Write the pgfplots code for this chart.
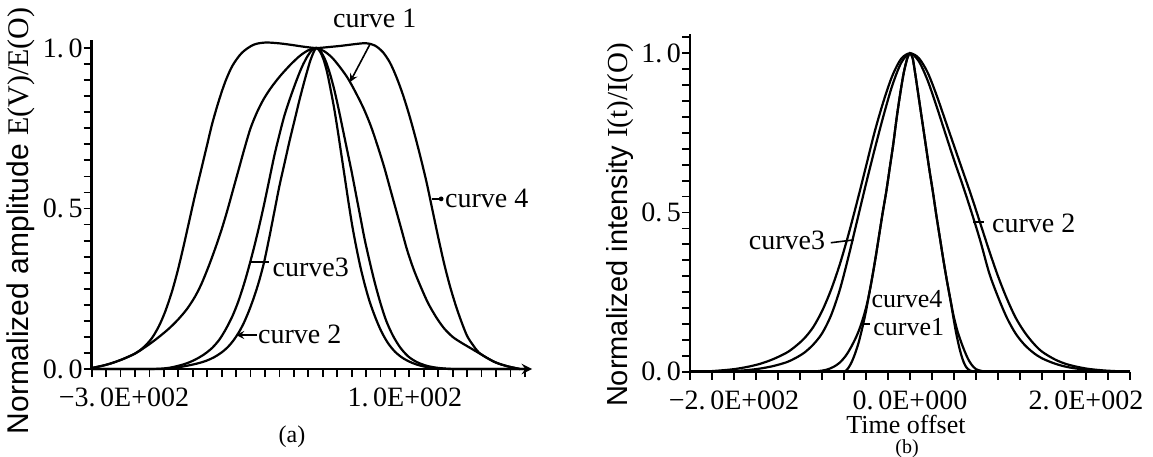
\documentclass[border=0pt]{standalone}
\usepackage{pgfplots}
\pgfplotsset{compat=1.18}
\usepackage{fontspec}
\setmainfont{Liberation Serif}
\setsansfont{Liberation Sans}

\pgfplotsset{
  oldfig/.style={
    scale only axis,
    clip=false,
    axis x line*=bottom,
    axis y line*=left,
    axis line style={line width=1.3pt},
    tick align=outside,
    major tick length=4pt,
    minor tick length=4pt,
    tick style={line width=0.9pt, black},
    ticklabel style={font=\fontsize{14}{16}\selectfont},
    xticklabel style={yshift=-2pt},
    yticklabel style={xshift=3pt},
  },
}
\tikzset{
  curve/.style={black, line width=1.1pt, smooth, tension=0.5, mark=none},
  lbl/.style={font=\fontsize{14}{16}\selectfont, inner sep=0pt},
}

\begin{document}
\begin{tikzpicture}
\path[use as bounding box] (0,0) rectangle (576.5pt,228pt);

% ---------- (a) spectrum ----------
\begin{axis}[oldfig,
  at={(45.85pt,43.5pt)}, anchor=south west,
  width=220.2pt, height=164.5pt,
  xmin=-300, xmax=310, ymin=0, ymax=1.025,
  x axis line style={-stealth},
  xtick={-300,100},
  xticklabels={−3.\,0E+002, 1.\,0E+002},
  xticklabel style={anchor=north west, xshift=-20pt},
  minor xtick={-280,-260,...,300},
  ytick={0,0.5,1},
  yticklabels={0.\,0, 0.\,5, 1.\,0},
  minor ytick={0.05,0.1,...,0.96},
  ylabel={\sffamily Normalized amplitude \rmfamily E(V)/E(O)},
  ylabel style={font=\fontsize{15}{17}\selectfont,
    at={(axis description cs:-0.16,0.45)}, anchor=center},
]
% curve 4 (widest, flat top)
\addplot[curve] coordinates {
(-300,0.003) (-280,0.013) (-260,0.028) (-240,0.048) (-228,0.068) (-217,0.095)
(-207,0.133) (-198,0.180) (-189,0.240) (-181,0.305) (-173,0.380) (-165,0.460)
(-157,0.540) (-149,0.615) (-141,0.690) (-133,0.765) (-124,0.835) (-115,0.895)
(-105,0.945) (-92,0.985) (-76,1.010) (-60,1.017) (-42,1.015) (-24,1.010)
(-6,1.004) (11,1.0) (28,1.003) (46,1.007) (64,1.012) (80,1.015) (92,1.008)
(103,0.988) (113,0.955) (122,0.910) (131,0.855) (140,0.790) (148,0.725)
(156,0.655) (164,0.580) (172,0.495) (180,0.410) (188,0.330) (196,0.260)
(204,0.200) (212,0.148) (220,0.103) (228,0.075) (236,0.052) (248,0.034)
(260,0.020) (275,0.009) (293,0.0)
};
% curve 1 (medium)
\addplot[curve] coordinates {
(-300,0.003) (-280,0.013) (-260,0.028) (-240,0.048) (-228,0.065) (-216,0.084)
(-204,0.105) (-192,0.128) (-180,0.155) (-168,0.187) (-157,0.225) (-148,0.265)
(-138,0.320) (-129,0.375) (-120,0.435) (-112,0.495) (-104,0.560) (-96,0.625)
(-88,0.690) (-80,0.750) (-71,0.800) (-62,0.840) (-52,0.875) (-40,0.910)
(-26,0.945) (-12,0.975) (0,0.993) (11,1.0) (22,0.990) (33,0.970) (44,0.940)
(55,0.905) (66,0.860) (77,0.810) (87,0.755) (96,0.695) (105,0.630) (113,0.565)
(121,0.500) (129,0.435) (137,0.370) (146,0.310) (156,0.255) (166,0.205)
(177,0.162) (188,0.127) (200,0.100) (212,0.082) (224,0.066) (236,0.050)
(248,0.034) (260,0.020) (275,0.009) (293,0.0)
};
% curve 3 (narrow, outer)
\addplot[curve] coordinates {
(-300,0) (-280,0) (-260,0) (-240,0) (-220,0) (-205,0.001) (-192,0.004)
(-180,0.010) (-168,0.018) (-156,0.030) (-144,0.046) (-133,0.066) (-123,0.092)
(-114,0.125) (-105,0.165) (-97,0.210) (-89,0.265) (-82,0.320) (-75,0.380)
(-68,0.445) (-61,0.515) (-54,0.590) (-47,0.665) (-40,0.730) (-33,0.790)
(-25,0.845) (-17,0.895) (-9,0.940) (-1,0.975) (5,0.993) (11,1.0) (17,0.990)
(24,0.960) (30,0.920) (36,0.870) (42,0.810) (48,0.745) (54,0.680) (60,0.615)
(66,0.545) (72,0.475) (78,0.405) (85,0.335) (92,0.270) (100,0.205) (108,0.150)
(117,0.105) (127,0.068) (138,0.040) (150,0.022) (164,0.010) (178,0.004)
(192,0.001) (205,0) (220,0) (240,0) (260,0) (280,0) (300,0)
};
% curve 2 (narrow, inner)
\addplot[curve] coordinates {
(-300,0) (-280,0) (-260,0) (-240,0) (-220,0) (-202,0) (-190,0.002)
(-178,0.006) (-166,0.011) (-154,0.017) (-142,0.025) (-131,0.036) (-121,0.050)
(-112,0.067) (-104,0.088) (-96,0.115) (-89,0.145) (-82,0.182) (-75,0.225)
(-68,0.275) (-61,0.335) (-54,0.410) (-47,0.490) (-40,0.570) (-33,0.640)
(-26,0.710) (-19,0.775) (-12,0.840) (-5,0.900) (2,0.955) (7,0.985) (11,1.0)
(16,0.990) (21,0.965) (26,0.925) (31,0.870) (36,0.810) (41,0.740) (46,0.665)
(51,0.590) (56,0.515) (61,0.445) (66,0.385) (72,0.320) (78,0.265) (85,0.210)
(93,0.160) (101,0.118) (110,0.082) (120,0.054) (131,0.034) (143,0.020)
(156,0.010) (170,0.004) (185,0.001) (200,0) (220,0) (240,0) (260,0) (280,0) (300,0)
};
\node[lbl] at (axis cs:92,1.093) {curve 1};
\draw[line width=0.8pt, -stealth] (axis cs:85.5,1.012) -- (axis cs:57.8,0.894);
\node[lbl, anchor=west] at (axis cs:189,0.53) {curve 4};
\draw[line width=0.8pt] (axis cs:171,0.53) -- (axis cs:186,0.53);
\fill (axis cs:184,0.53) circle (1.2pt);
\node[lbl, anchor=west] at (axis cs:-50,0.318) {curve3};
\draw[line width=0.8pt] (axis cs:-80,0.333) -- (axis cs:-55,0.333);
\node[lbl, anchor=west] at (axis cs:-70,0.109) {curve 2};
\draw[line width=0.8pt, -stealth] (axis cs:-71,0.106) -- (axis cs:-100,0.106);
\end{axis}
\node[font=\fontsize{12}{14}\selectfont] at (146pt,9.5pt) {(a)};

% ---------- (b) time domain ----------
\begin{axis}[oldfig,
  at={(345pt,42.15pt)}, anchor=south west,
  width=220pt, height=168.75pt,
  xmin=-250, xmax=250, ymin=0, ymax=1.06,
  xtick={-200,0,200},
  xticklabels={−2.\,0E+002, 0.\,0E+000, 2.\,0E+002},
  minor xtick={-250,-225,...,250},
  ytick={0,0.5,1},
  yticklabels={0.\,0, 0.\,5, 1.\,0},
  minor ytick={0.05,0.1,...,1.06},
  ylabel={\sffamily Normalized intensity \rmfamily I(t)/I(O)},
  ylabel style={font=\fontsize{14.5}{17}\selectfont,
    at={(axis description cs:-0.16,0.435)}, anchor=center},
]
% curve 3 (wide, outer)
\addplot[curve] coordinates {
(-250,0) (-245,0) (-230,0.001) (-215,0.004) (-200,0.008) (-185,0.015)
(-170,0.025) (-155,0.040) (-140,0.060) (-130,0.080) (-120,0.105) (-110,0.140)
(-100,0.190) (-90,0.255) (-80,0.335) (-70,0.430) (-60,0.535) (-50,0.645)
(-40,0.755) (-30,0.850) (-20,0.930) (-10,0.983) (0,1.0) (10,0.985) (20,0.940)
(30,0.870) (40,0.790) (50,0.710) (60,0.630) (70,0.550) (80,0.465) (90,0.380)
(100,0.300) (110,0.230) (120,0.170) (130,0.125) (140,0.090) (150,0.063)
(165,0.038) (180,0.022) (200,0.010) (220,0.004) (240,0.001) (250,0)
};
% curve 2 (wide, inner)
\addplot[curve] coordinates {
(-250,0) (-230,0) (-215,0.001) (-200,0.002) (-185,0.005) (-170,0.010)
(-155,0.018) (-140,0.030) (-130,0.043) (-120,0.060) (-110,0.085) (-100,0.120)
(-90,0.175) (-80,0.255) (-70,0.360) (-60,0.475) (-50,0.590) (-40,0.700)
(-30,0.805) (-20,0.900) (-10,0.970) (0,1.0) (10,0.975) (20,0.915) (30,0.835)
(40,0.750) (50,0.665) (60,0.585) (70,0.500) (80,0.410) (90,0.310) (100,0.235)
(110,0.170) (120,0.120) (130,0.085) (140,0.060) (150,0.042) (165,0.025)
(180,0.014) (200,0.006) (220,0.002) (240,0) (250,0)
};
% curve 1 (narrow, outer)
\addplot[curve] coordinates {
(-250,0) (-230,0) (-210,0) (-190,0) (-170,0) (-150,0) (-130,0) (-115,0)
(-104,0.002) (-95,0.006) (-87,0.015) (-80,0.028) (-73,0.050) (-67,0.077)
(-61,0.110) (-56,0.145) (-51,0.190) (-47,0.236) (-43,0.295) (-39,0.360)
(-35,0.430) (-31,0.500) (-27,0.565) (-23,0.640) (-19,0.715) (-15,0.800)
(-11,0.875) (-7,0.940) (-3,0.985) (0,1.0) (3,0.985) (6,0.935) (10,0.860)
(14,0.785) (18,0.710) (22,0.635) (26,0.565) (30,0.490) (34,0.420) (38,0.350)
(42,0.285) (46,0.225) (50,0.170) (54,0.127) (58,0.094) (62,0.065) (66,0.040)
(70,0.022) (75,0.008) (82,0.002) (90,0) (110,0) (130,0) (150,0) (170,0)
(190,0) (210,0) (230,0) (250,0)
};
% curve 4 (narrow, inner)
\addplot[curve] coordinates {
(-250,0) (-230,0) (-210,0) (-190,0) (-170,0) (-150,0) (-130,0) (-110,0)
(-90,0) (-80,0) (-74,0.001) (-70,0.012) (-66,0.032) (-62,0.060) (-58,0.095)
(-54,0.140) (-50,0.190) (-47,0.236) (-43,0.295) (-39,0.360) (-35,0.430)
(-31,0.500) (-27,0.565) (-23,0.640) (-19,0.715) (-15,0.800) (-11,0.875)
(-7,0.940) (-3,0.985) (0,1.0) (3,0.985) (6,0.935) (10,0.860) (14,0.785)
(18,0.710) (22,0.635) (26,0.565) (30,0.490) (34,0.420) (38,0.350) (42,0.285)
(46,0.225) (49,0.175) (52,0.128) (55,0.088) (58,0.055) (61,0.030) (64,0.014)
(68,0.004) (74,0) (90,0) (110,0) (130,0) (150,0) (170,0) (190,0) (210,0)
(230,0) (250,0)
};
\node[lbl, anchor=east] at (axis cs:-96,0.414) {curve3};
\draw[line width=0.8pt] (axis cs:-90,0.405) -- (axis cs:-64,0.414);
\node[lbl, anchor=west] at (axis cs:93,0.467) {curve 2};
\draw[line width=0.8pt] (axis cs:72,0.471) -- (axis cs:84,0.471);
\node[lbl, anchor=west, font=\fontsize{13}{15}\selectfont] at (axis cs:-44,0.228) {curve4};
\node[lbl, anchor=west, font=\fontsize{13}{15}\selectfont] at (axis cs:-42,0.140) {curve1};
\draw[line width=0.8pt] (axis cs:-55,0.150) -- (axis cs:-45,0.150);
\end{axis}
\node[font=\fontsize{13}{15}\selectfont] at (453pt,16pt) {Time offset};
\node[font=\fontsize{10}{12}\selectfont] at (453.5pt,3.5pt) {(b)};
\end{tikzpicture}
\end{document}
